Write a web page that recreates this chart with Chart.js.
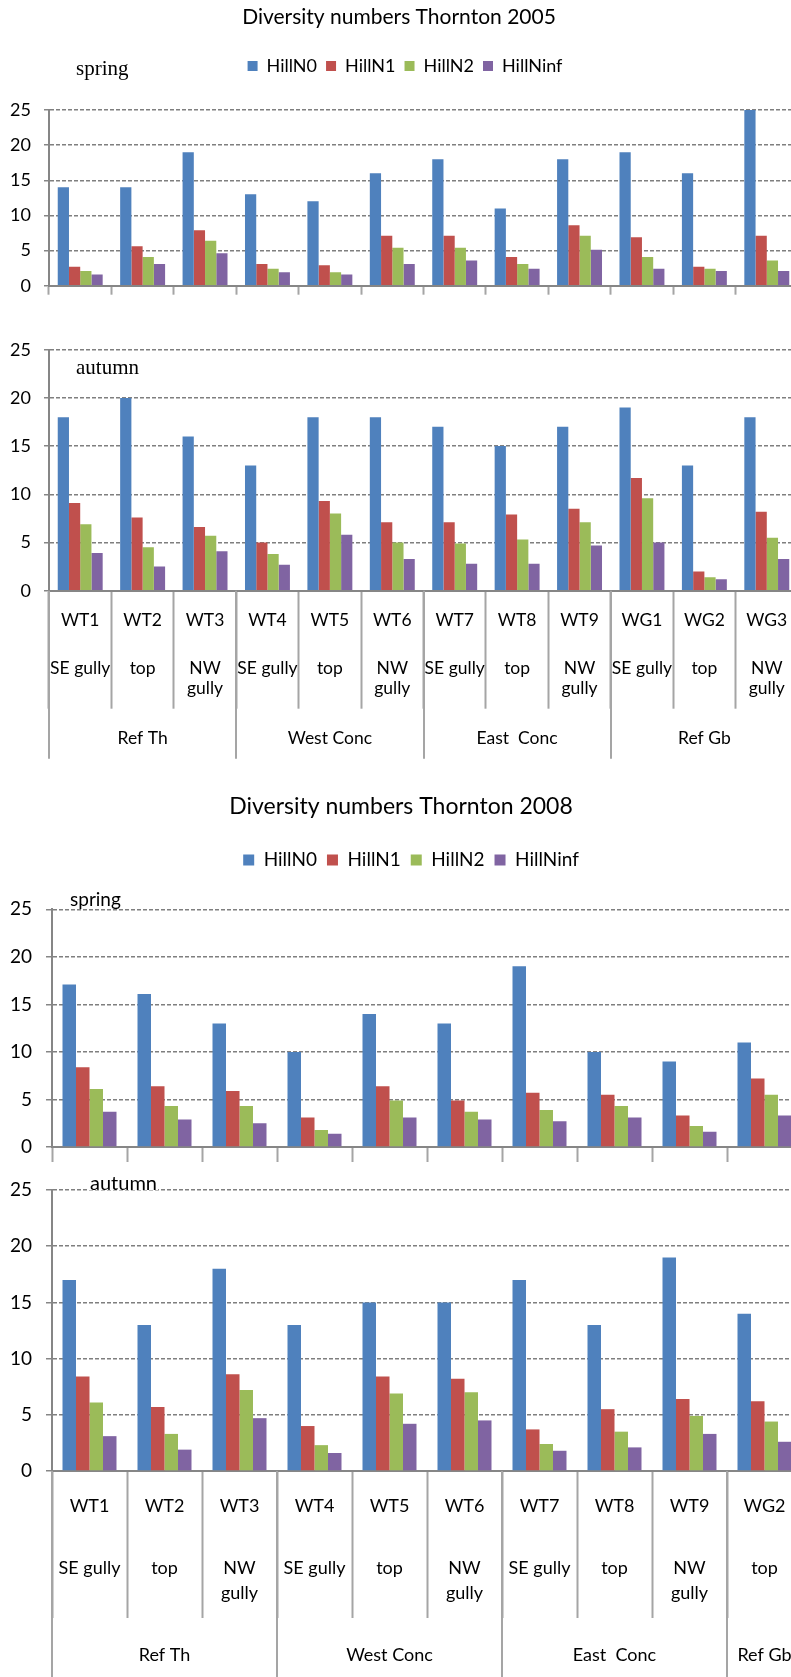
<!DOCTYPE html>
<html>
<head>
<meta charset="utf-8">
<script src="https://cdn.jsdelivr.net/npm/chart.js@4.4.1/dist/chart.umd.min.js"></script>
<style>
  html, body { margin: 0; padding: 0; background: #fff; }
  body { width: 791px; height: 1677px; overflow: hidden; position: relative; }
  canvas { position: absolute; left: 0; }
</style>
</head>
<body>
<canvas id="spring2005" width="810" height="320" style="top:0px"></canvas>
<canvas id="autumn2005" width="810" height="470" style="top:300px"></canvas>
<canvas id="spring2008" width="810" height="420" style="top:770px"></canvas>
<canvas id="autumn2008" width="810" height="537" style="top:1140px"></canvas>
<script>
// series
const seriesNames = ["HillN0", "HillN1", "HillN2", "HillNinf"];
const seriesColors = ["#4F81BD", "#C0504D", "#9BBB59", "#8064A2"];
const yTicks = [0, 5, 10, 15, 20, 25];

// 2005 categories
const sites2005 = ["WT1", "WT2", "WT3", "WT4", "WT5", "WT6", "WT7", "WT8", "WT9", "WG1", "WG2", "WG3"];
const positions2005 = [["SE gully"], ["top"], ["NW", "gully"], ["SE gully"], ["top"], ["NW", "gully"],
                       ["SE gully"], ["top"], ["NW", "gully"], ["SE gully"], ["top"], ["NW", "gully"]];
const groups2005 = ["Ref Th", "West Conc", "East  Conc", "Ref Gb"];
const groupSizes2005 = [3, 3, 3, 3];

// 2005 spring
const spring2005N0 = [14, 14, 19, 13, 12, 16, 18, 11, 18, 19, 16, 25];
const spring2005N1 = [2.7, 5.6, 7.9, 3.1, 2.9, 7.1, 7.1, 4.1, 8.6, 6.9, 2.7, 7.1];
const spring2005N2 = [2.1, 4.1, 6.4, 2.4, 1.9, 5.4, 5.4, 3.1, 7.1, 4.1, 2.4, 3.6];
const spring2005Ninf = [1.6, 3.1, 4.6, 1.9, 1.6, 3.1, 3.6, 2.4, 5.1, 2.4, 2.1, 2.1];

// 2005 autumn
const autumn2005N0 = [18, 20, 16, 13, 18, 18, 17, 15, 17, 19, 13, 18];
const autumn2005N1 = [9.1, 7.6, 6.6, 5.0, 9.3, 7.1, 7.1, 7.9, 8.5, 11.7, 2.0, 8.2];
const autumn2005N2 = [6.9, 4.5, 5.7, 3.8, 8.0, 5.0, 4.9, 5.3, 7.1, 9.6, 1.4, 5.5];
const autumn2005Ninf = [3.9, 2.5, 4.1, 2.7, 5.8, 3.3, 2.8, 2.8, 4.7, 5.0, 1.2, 3.3];

// 2008 categories
const sites2008 = ["WT1", "WT2", "WT3", "WT4", "WT5", "WT6", "WT7", "WT8", "WT9", "WG2"];
const positions2008 = [["SE gully"], ["top"], ["NW", "gully"], ["SE gully"], ["top"], ["NW", "gully"],
                       ["SE gully"], ["top"], ["NW", "gully"], ["top"]];
const groups2008 = ["Ref Th", "West Conc", "East  Conc", "Ref Gb"];
const groupSizes2008 = [3, 3, 3, 1];

// 2008 spring
const spring2008N0 = [17.1, 16.1, 13, 10, 14, 13, 19, 10, 9, 11];
const spring2008N1 = [8.4, 6.4, 5.9, 3.1, 6.4, 4.9, 5.7, 5.5, 3.3, 7.2];
const spring2008N2 = [6.1, 4.3, 4.3, 1.8, 4.9, 3.7, 3.9, 4.3, 2.2, 5.5];
const spring2008Ninf = [3.7, 2.9, 2.5, 1.4, 3.1, 2.9, 2.7, 3.1, 1.6, 3.3];

// 2008 autumn
const autumn2008N0 = [17, 13, 18, 13, 15, 15, 17, 13, 19, 14];
const autumn2008N1 = [8.4, 5.7, 8.6, 4.0, 8.4, 8.2, 3.7, 5.5, 6.4, 6.2];
const autumn2008N2 = [6.1, 3.3, 7.2, 2.3, 6.9, 7.0, 2.4, 3.5, 4.9, 4.4];
const autumn2008Ninf = [3.1, 1.9, 4.7, 1.6, 4.2, 4.5, 1.8, 2.1, 3.3, 2.6];

Chart.defaults.font.family = "Lato, 'Open Sans', sans-serif";
Chart.defaults.color = "#000";

// push the plot down below the legend, nudge the legend sideways
const legendGap = {
    id: "legendGap",
    beforeInit(chart, args, opts) {
        const legend = chart.legend;
        const fit = legend.fit;
        const draw = legend.draw;
        legend.fit = function () {
            fit.call(this);
            this.height += opts.extra || 0;
        };
        legend.draw = function () {
            this.ctx.save();
            this.ctx.translate(opts.shift || 0, 0);
            draw.call(this);
            this.ctx.restore();
        };
    },
};

// "spring" / "autumn" note inside the plot
const seasonLabel = {
    id: "seasonLabel",
    afterDraw(chart, args, opts) {
        const ctx = chart.ctx;
        const x = chart.chartArea.left + opts.dx;
        const y = chart.chartArea.top + opts.dy;
        ctx.save();
        ctx.font = opts.font;
        ctx.textBaseline = "middle";
        if (opts.background) {
            const w = ctx.measureText(opts.text).width;
            ctx.fillStyle = "#fff";
            ctx.fillRect(x - 1, y - 8, w + 2, 14);
        }
        ctx.fillStyle = "#000";
        ctx.fillText(opts.text, x, y);
        ctx.restore();
    },
};

// two-level category axis: site / position, then group
const siteAxis = {
    id: "siteAxis",
    afterDraw(chart, args, opts) {
        const xs = chart.scales.x;
        const ctx = chart.ctx;
        const y0 = chart.chartArea.bottom;
        ctx.save();
        ctx.fillStyle = "#000";
        ctx.font = opts.font;
        ctx.textAlign = "center";
        ctx.textBaseline = "middle";
        opts.sites.forEach((s, i) => {
            const cx = xs.getPixelForValue(i);
            ctx.fillText(s, cx, y0 + opts.siteY);
            opts.positions[i].forEach((line, j) => {
                ctx.fillText(line, cx, y0 + opts.posY + j * opts.lineGap);
            });
        });
        ctx.strokeStyle = "#a5a5a5";
        ctx.lineWidth = 2;
        let k = 0;
        opts.groups.forEach((g, gi) => {
            const xl = xs.getPixelForValue(k - 0.5);
            const xr = xs.getPixelForValue(k + opts.groupSizes[gi] - 0.5);
            ctx.beginPath();
            ctx.moveTo(Math.round(xl), y0);
            ctx.lineTo(Math.round(xl), y0 + opts.groupLen);
            ctx.stroke();
            ctx.fillText(g, (xl + xr) / 2, y0 + opts.groupY);
            k += opts.groupSizes[gi];
        });
        ctx.restore();
    },
};

function makeDatasets(values) {
    return values.map((v, i) => ({
        label: seriesNames[i],
        data: v,
        backgroundColor: seriesColors[i],
        categoryPercentage: 0.72,
        barPercentage: 1,
    }));
}

function panelOptions(p) {
    return {
        responsive: false,
        animation: false,
        devicePixelRatio: 1,
        layout: { padding: { top: p.padTop, right: p.padRight, left: 0, bottom: 0 } },
        scales: {
            x: {
                grid: {
                    offset: true,
                    drawOnChartArea: false,
                    drawTicks: true,
                    tickLength: p.xTick,
                    tickColor: "#a5a5a5",
                    tickWidth: 2,
                },
                border: { color: "#868686", width: 2 },
                ticks: { display: false },
                afterFit: (s) => { s.height = p.xHeight; },
            },
            y: {
                min: 0,
                max: 25,
                afterBuildTicks: (s) => { s.ticks = yTicks.map((v) => ({ value: v })); },
                ticks: { padding: p.yPad, font: { size: p.tickSize } },
                grid: {
                    color: "#7f7f7f",
                    lineWidth: 1.5,
                    tickLength: p.yTick,
                    tickColor: "#868686",
                },
                border: { color: "#868686", width: 2, dash: [4, 2] },
                afterFit: (s) => { s.width = p.yWidth; },
            },
        },
        plugins: {
            title: p.title
                ? {
                      display: true,
                      text: p.title,
                      font: { size: p.titleSize, weight: "normal" },
                      color: "#000",
                      padding: { top: p.titleTop, bottom: p.titleBottom },
                  }
                : { display: false },
            legend: p.legend
                ? {
                      display: true,
                      labels: {
                          boxWidth: p.box,
                          boxHeight: p.box,
                          padding: p.legendPad,
                          font: { size: p.legendSize },
                          color: "#000",
                      },
                  }
                : { display: false },
            tooltip: { enabled: false },
            legendGap: { extra: p.legendExtra || 0, shift: p.legendShift || 0 },
            seasonLabel: p.season,
            siteAxis: p.axis,
        },
    };
}

// 2005 spring
new Chart(document.getElementById("spring2005"), {
    type: "bar",
    data: {
        labels: sites2005,
        datasets: makeDatasets([spring2005N0, spring2005N1, spring2005N2, spring2005Ninf]),
    },
    options: panelOptions({
        padTop: 0, padRight: 12, xTick: 9, xHeight: 34.3, yPad: 13, yTick: 5, yWidth: 49, tickSize: 18,
        title: "Diversity numbers Thornton 2005", titleSize: 21, titleTop: 4.4, titleBottom: 18.4,
        legend: true, box: 10, legendSize: 18, legendPad: 9, legendExtra: 25, legendShift: 6,
        season: { text: "spring", font: "21px 'Liberation Serif'", dx: 27, dy: -41 },
    }),
    plugins: [legendGap, seasonLabel],
});

// 2005 autumn
new Chart(document.getElementById("autumn2005"), {
    type: "bar",
    data: {
        labels: sites2005,
        datasets: makeDatasets([autumn2005N0, autumn2005N1, autumn2005N2, autumn2005Ninf]),
    },
    options: panelOptions({
        padTop: 49.7, padRight: 12, xTick: 118, xHeight: 179.3, yPad: 13, yTick: 5, yWidth: 49, tickSize: 18,
        season: { text: "autumn", font: "21px 'Liberation Serif'", dx: 27, dy: 19 },
        axis: {
            sites: sites2005, positions: positions2005, groups: groups2005, groupSizes: groupSizes2005,
            font: "17.5px Lato", siteY: 29.3, posY: 77.3, lineGap: 20, groupY: 147.3, groupLen: 168,
        },
    }),
    plugins: [seasonLabel, siteAxis],
});

// 2008 spring
new Chart(document.getElementById("spring2008"), {
    type: "bar",
    data: {
        labels: sites2008,
        datasets: makeDatasets([spring2008N0, spring2008N1, spring2008N2, spring2008Ninf]),
    },
    options: panelOptions({
        padTop: 0, padRight: 8, xTick: 15, xHeight: 43, yPad: 14, yTick: 6, yWidth: 52, tickSize: 19,
        title: "Diversity numbers Thornton 2008", titleSize: 23, titleTop: 23.2, titleBottom: 19.7,
        legend: true, box: 11, legendSize: 19, legendPad: 10, legendExtra: 29.8, legendShift: 10,
        season: { text: "spring", font: "19px Lato", dx: 18, dy: -9.3 },
    }),
    plugins: [legendGap, seasonLabel],
});

// 2008 autumn
new Chart(document.getElementById("autumn2008"), {
    type: "bar",
    data: {
        labels: sites2008,
        datasets: makeDatasets([autumn2008N0, autumn2008N1, autumn2008N2, autumn2008Ninf]),
    },
    options: panelOptions({
        padTop: 50, padRight: 8, xTick: 147, xHeight: 206, yPad: 14, yTick: 6, yWidth: 52, tickSize: 19,
        season: { text: "autumn", font: "20px Lato", dx: 38, dy: -6, background: true },
        axis: {
            sites: sites2008, positions: positions2008, groups: groups2008, groupSizes: groupSizes2008,
            font: "18px Lato", siteY: 35, posY: 97, lineGap: 25, groupY: 184, groupLen: 206,
        },
    }),
    plugins: [seasonLabel, siteAxis],
});
</script>
</body>
</html>
